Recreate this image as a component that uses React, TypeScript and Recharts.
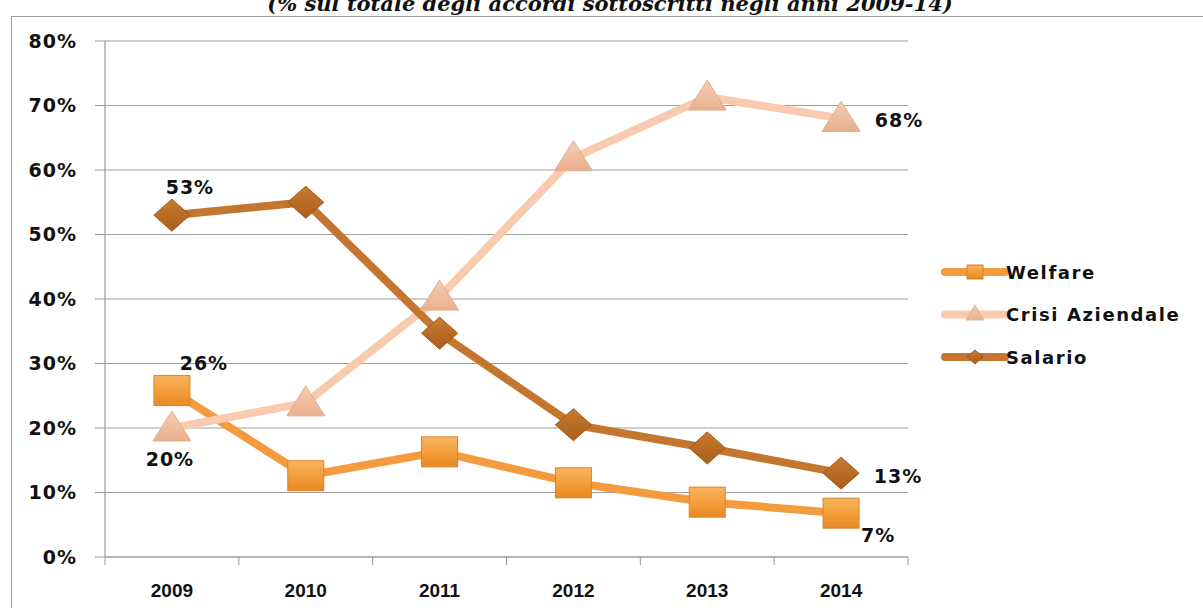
import React from "react";
import {
  LineChart,
  Line,
  XAxis,
  YAxis,
  CartesianGrid,
  Legend,
  LabelList,
} from "recharts";

const years = ["2009", "2010", "2011", "2012", "2013", "2014"];
const welfare = [25.8, 12.6, 16.3, 11.5, 8.5, 6.8];
const crisi = [20, 23.9, 40.3, 61.9, 71.3, 68];
const salario = [53, 55, 34.7, 20.5, 16.9, 13];
const yTicks = [0, 10, 20, 30, 40, 50, 60, 70, 80];

const data = years.map((year, i) => ({
  year,
  Welfare: welfare[i],
  "Crisi Aziendale": crisi[i],
  Salario: salario[i],
}));

const COLORS = {
  Welfare: "#F39B3E",
  "Crisi Aziendale": "#F8CAAE",
  Salario: "#C47631",
};

const W = 1203;
const H = 608;
const PLOT_LEFT = 105;
const PLOT_RIGHT = 908;
const HALF_BAND = (PLOT_RIGHT - PLOT_LEFT) / years.length / 2;

const LABEL_FONT = "'DejaVu Sans', Verdana, sans-serif";

function SquareDot({ cx, cy, small }: any) {
  if (cx == null || cy == null) return null;
  const w = small ? 16 : 36;
  const h = small ? 14 : 30;
  return (
    <rect x={cx - w / 2} y={cy - h / 2} width={w} height={h} fill="url(#gSquare)" stroke="#D98424" strokeWidth={1} />
  );
}

function TriangleDot({ cx, cy, small }: any) {
  if (cx == null || cy == null) return null;
  const w = small ? 18 : 38;
  const h = small ? 15 : 30;
  const pts = `${cx},${cy - h / 2 - 2} ${cx + w / 2},${cy + h / 2 - 2} ${cx - w / 2},${cy + h / 2 - 2}`;
  return <polygon points={pts} fill="url(#gTri)" stroke="#E2AE90" strokeWidth={1} />;
}

function DiamondDot({ cx, cy, small }: any) {
  if (cx == null || cy == null) return null;
  const w = small ? 16 : 36;
  const h = small ? 14 : 32;
  const pts = `${cx},${cy - h / 2} ${cx + w / 2},${cy} ${cx},${cy + h / 2} ${cx - w / 2},${cy}`;
  return <polygon points={pts} fill="url(#gDia)" stroke="#9E5717" strokeWidth={1} />;
}

const DOTS: Record<string, any> = {
  Welfare: SquareDot,
  "Crisi Aziendale": TriangleDot,
  Salario: DiamondDot,
};

// which points get a value label, and where it sits relative to the point
const LABEL_POS: Record<string, Record<number, [number, number]>> = {
  Welfare: { 0: [32, -28], 5: [37, 22] },
  "Crisi Aziendale": { 0: [-2, 31], 5: [58, 2] },
  Salario: { 0: [18, -28], 5: [57, 3] },
};

function makeLabel(series: string) {
  return function ValueLabel(props: any) {
    const { x, y, index, value } = props;
    const pos = LABEL_POS[series][index];
    if (!pos) return null;
    return (
      <text
        x={x + pos[0]}
        y={y + pos[1]}
        textAnchor="middle"
        dominantBaseline="central"
        fontFamily={LABEL_FONT}
        fontWeight="bold"
        fontSize={19}
        letterSpacing={1}
        fill="#111"
      >
        {Math.round(value)}%
      </text>
    );
  };
}

function XTick(props: any) {
  const { x, y, payload, index } = props;
  return (
    <g>
      <line x1={x - HALF_BAND} y1={y - 8} x2={x - HALF_BAND} y2={y} stroke="#9a9a9a" />
      {index === years.length - 1 && (
        <line x1={x + HALF_BAND} y1={y - 8} x2={x + HALF_BAND} y2={y} stroke="#9a9a9a" />
      )}
      <text
        x={x}
        y={y + 32}
        textAnchor="middle"
        fontFamily="'Liberation Sans', Arial, sans-serif"
        fontWeight="bold"
        fontSize={19}
        fill="#111"
      >
        {payload.value}
      </text>
    </g>
  );
}

function LegendContent() {
  const items = ["Welfare", "Crisi Aziendale", "Salario"];
  return (
    <svg width={263} height={120}>
      {items.map((name, i) => {
        const y = 17 + i * 42.5;
        const Dot = DOTS[name];
        return (
          <g key={name}>
            <line x1={5} y1={y} x2={65} y2={y} stroke={(COLORS as any)[name]} strokeWidth={8} strokeLinecap="round" />
            <Dot cx={35} cy={y} small />
            <text
              x={66}
              y={y}
              dominantBaseline="central"
              fontFamily={LABEL_FONT}
              fontWeight="bold"
              fontSize={18}
              letterSpacing={1.6}
              fill="#111"
            >
              {name}
            </text>
          </g>
        );
      })}
    </svg>
  );
}

export default function App() {
  return (
    <div style={{ position: "absolute", left: 0, top: 0, width: W, height: H, overflow: "hidden", background: "#fff" }}>
      <div
        style={{
          position: "absolute",
          left: 0,
          width: W,
          top: -11,
          textAlign: "center",
          fontFamily: "'DejaVu Serif', 'Liberation Serif', serif",
          fontStyle: "italic",
          fontWeight: "bold",
          fontSize: 21,
          lineHeight: "30px",
          color: "#111",
          paddingLeft: 17,
          boxSizing: "border-box",
        }}
      >
        (% sul totale degli accordi sottoscritti negli anni 2009-14)
      </div>
      <div
        style={{
          position: "absolute",
          left: 11,
          top: 16,
          width: W,
          height: 620,
          borderLeft: "1.5px solid #9a9a9a",
          borderTop: "1.5px solid #9a9a9a",
        }}
      />
      <div style={{ position: "absolute", left: 0, top: 0 }}>
        <LineChart
          width={W}
          height={H}
          data={data}
          margin={{ top: 41, right: W - PLOT_RIGHT, left: 0, bottom: 21 }}
        >
          <defs>
            <linearGradient id="gSquare" x1="0" y1="0" x2="0" y2="1">
              <stop offset="0%" stopColor="#F8B560" />
              <stop offset="60%" stopColor="#F29A35" />
              <stop offset="100%" stopColor="#E68A25" />
            </linearGradient>
            <linearGradient id="gTri" x1="0" y1="0" x2="0" y2="1">
              <stop offset="0%" stopColor="#F6CDB3" />
              <stop offset="100%" stopColor="#E9AF8E" />
            </linearGradient>
            <linearGradient id="gDia" x1="0" y1="0" x2="0" y2="1">
              <stop offset="0%" stopColor="#C97A30" />
              <stop offset="100%" stopColor="#A95E1A" />
            </linearGradient>
          </defs>
          <CartesianGrid vertical={false} stroke="#a0a0a0" strokeWidth={1.2} />
          <XAxis
            dataKey="year"
            height={30}
            padding={{ left: HALF_BAND, right: HALF_BAND }}
            axisLine={{ stroke: "#9a9a9a", strokeWidth: 1.2 }}
            tickLine={false}
            tick={<XTick />}
            interval={0}
          />
          <YAxis
            width={PLOT_LEFT}
            domain={[0, 80]}
            ticks={yTicks}
            interval={0}
            tickFormatter={(v) => `${v}%`}
            axisLine={{ stroke: "#9a9a9a", strokeWidth: 1.2 }}
            tickLine={{ stroke: "#9a9a9a" }}
            tickSize={10}
            tickMargin={18}
            tick={{ fill: "#111", fontSize: 19, fontWeight: "bold", fontFamily: LABEL_FONT, letterSpacing: 1 }}
          />
          <Legend
            layout="horizontal"
            align="center"
            verticalAlign="middle"
            content={<LegendContent />}
            wrapperStyle={{ position: "absolute", left: 940, top: 255, width: 263, height: 120 }}
          />
          {(["Welfare", "Crisi Aziendale", "Salario"] as const).map((name) => {
            const Dot = DOTS[name];
            return (
              <Line
                key={name}
                dataKey={name}
                type="linear"
                stroke={COLORS[name]}
                strokeWidth={8}
                dot={(p: any) => <Dot key={`${name}-${p.index}`} cx={p.cx} cy={p.cy} />}
                activeDot={false}
                isAnimationActive={false}
              >
                <LabelList dataKey={name} content={makeLabel(name)} />
              </Line>
            );
          })}
        </LineChart>
      </div>
    </div>
  );
}
